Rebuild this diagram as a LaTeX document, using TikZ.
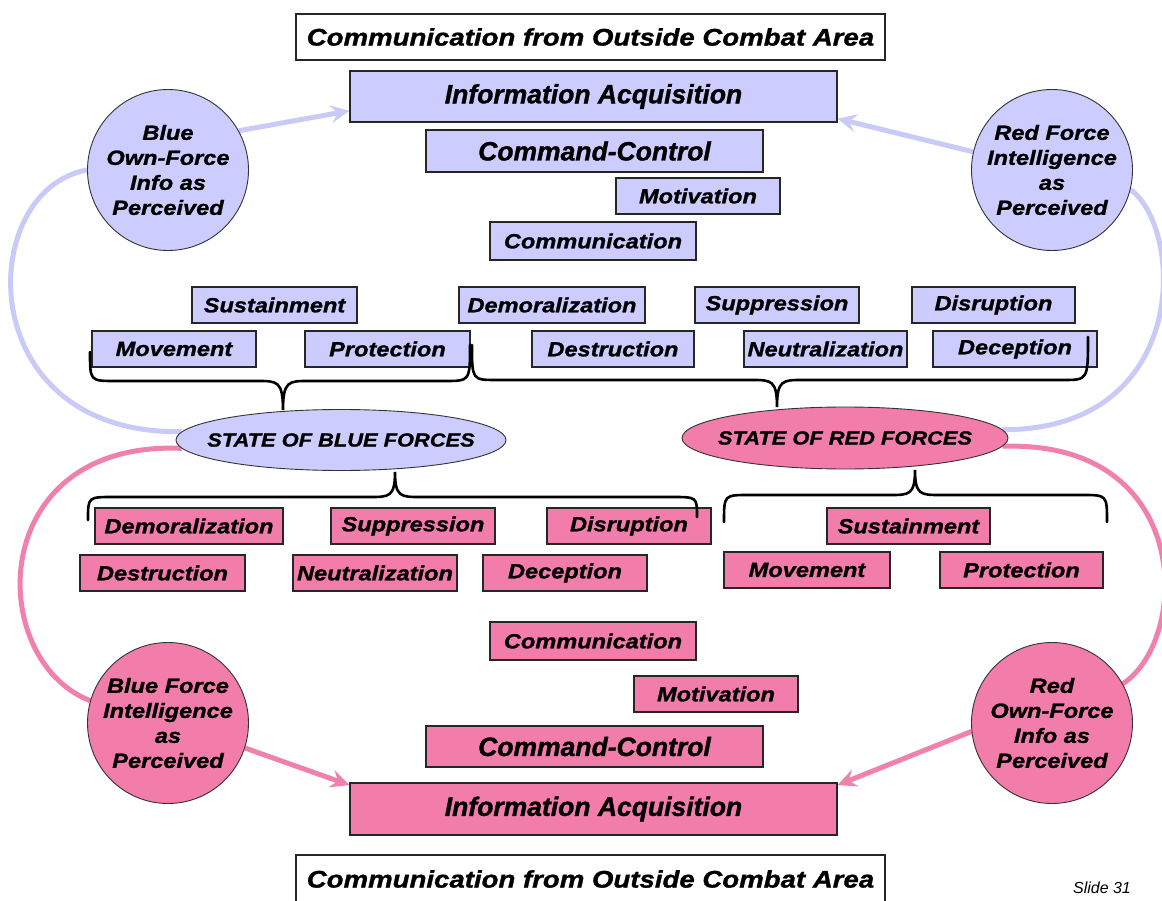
\documentclass[tikz,border=0pt]{standalone}
\usepackage{fontspec}
\usetikzlibrary{shapes.geometric,arrows.meta,calc}
\newfontfamily\labfont{Liberation Sans}[FakeStretch=1.15,FakeBold=1.2]
\newfontfamily\headfont{Liberation Sans}[FakeBold=1.2]
\newfontfamily\slidefont{Liberation Sans}
\definecolor{bluefill}{RGB}{204,204,255}
\definecolor{pinkfill}{RGB}{242,124,170}
\definecolor{blueline}{RGB}{202,202,248}
\definecolor{pinkline}{RGB}{240,128,172}
\pgfdeclarelayer{back}
\pgfsetlayers{back,main}

% curly brace: left end (#1,#2), level #3, tip (#4,#5), right end (#6,#7)
\newcommand\curlybrace[7]{%
  \draw[bracestyle] (#1,#2) .. controls (#1,#3) .. (#1+25,#3) -- (#4-25,#3)
    .. controls (#4-6,#3) and (#4,#3) .. (#4,#5)
    .. controls (#4,#3) and (#4+6,#3) .. (#4+25,#3) -- (#6-25,#3)
    .. controls (#6,#3) .. (#6,#7);}

\tikzset{
  wh/.style 2 args={minimum width=#1pt, minimum height=#2pt},
  labtext/.style={font=\labfont\bfseries\itshape\fontsize{20.5}{25}\selectfont, text=black},
  bigtext/.style={font=\headfont\bfseries\itshape\fontsize{26.5}{30}\selectfont, text=black},
  commtext/.style={font=\labfont\bfseries\itshape\fontsize{24}{28}\selectfont, text=black},
  box/.style={draw=black!85, line width=1.1pt, inner sep=0pt, labtext},
  bbox/.style={box, fill=bluefill},
  pbox/.style={box, fill=pinkfill},
  wbox/.style={box, fill=white},
  bcirc/.style={circle, draw=black!80, line width=0.9pt, fill=bluefill, minimum size=161pt, inner sep=0pt},
  pcirc/.style={circle, draw=black!80, line width=0.9pt, fill=pinkfill, minimum size=161pt, inner sep=0pt},
  ctext/.style={labtext, align=center, inner sep=0pt},
  bell/.style={ellipse, draw=black!80, line width=0.9pt, fill=bluefill, minimum width=330pt, minimum height=61pt, inner sep=0pt},
  pell/.style={ellipse, draw=black!80, line width=0.9pt, fill=pinkfill, minimum width=326pt, minimum height=62pt, inner sep=0pt},
  etext/.style={font=\labfont\bfseries\itshape\fontsize{19}{22}\selectfont, inner sep=0pt},
  bline/.style={draw=blueline, line width=5pt},
  pline/.style={draw=pinkline, line width=5pt},
  tip/.style={-{Stealth[length=19pt,width=18pt,inset=7pt]}},
  bracestyle/.style={draw=black, line width=2.6pt, line cap=round}
}

\begin{document}
\begin{tikzpicture}[x=1pt,y=-1pt]
\useasboundingbox (0,0) rectangle (1162,901);

% ---------- blue side (upper half) ----------
\node[wbox, commtext, wh={589}{46}] (topc) at (590.5,37) {Communication from Outside Combat Area};
\node[bbox, bigtext, wh={487}{51}] (ia) at (593.5,96.5) {Information Acquisition};
\node[bbox, bigtext, wh={337}{42}] (cc) at (594.5,151) {Command-Control};
\node[bbox, wh={164}{36}] (mot) at (698,196) {Motivation};
\node[bbox, wh={206}{38}] (com) at (593,241) {Communication};

\node[bbox, wh={165}{36}] (sus) at (274.5,305) {Sustainment};
\node[bbox, wh={186}{36}] (dem) at (552,305) {Demoralization};
\node[bbox, wh={164}{36}] (sup) at (777,305) {Suppression};
\node[bbox, wh={163}{36}] (dis) at (993.5,305) {Disruption};
\node[bbox, wh={164}{36}] (mov) at (174,349) {Movement};
\node[bbox, wh={165}{36}] (pro) at (387.5,349) {Protection};
\node[bbox, wh={162}{36}] (des) at (613,349) {Destruction};
\node[bbox, wh={163}{36}] (neu) at (825.5,349) {Neutralization};
\node[bbox, wh={164}{36}] (dec) at (1015,349) {Deception};

\node[bcirc] (bo) at (168,170) {};
\node[ctext] (bo-t) at (bo.center) {Blue\\Own-Force\\Info as\\Perceived};
\node[bcirc] (rf) at (1052,170) {};
\node[ctext] (rf-t) at (rf.center) {Red Force\\Intelligence\\as\\Perceived};

\node[bell] (bs) at (341,440) {};
\node[etext] (bs-t) at (bs.center) {STATE OF BLUE FORCES};
\node[pell] (rs) at (845,438) {};
\node[etext] (rs-t) at (rs.center) {STATE OF RED FORCES};

% ---------- red side (lower half) ----------
\node[pbox, wh={188}{36}] (dem2) at (189,526) {Demoralization};
\node[pbox, wh={164}{36}] (sup2) at (413,526) {Suppression};
\node[pbox, wh={164}{36}] (dis2) at (629,526) {Disruption};
\node[pbox, wh={165}{36}] (des2) at (162.5,573) {Destruction};
\node[pbox, wh={164}{36}] (neu2) at (375,573) {Neutralization};
\node[pbox, wh={164}{36}] (dec2) at (565,573) {Deception};
\node[pbox, wh={163}{36}] (sus2) at (908.5,526) {Sustainment};
\node[pbox, wh={166}{36}] (mov2) at (807,570) {Movement};
\node[pbox, wh={163}{36}] (pro2) at (1021.5,570) {Protection};

\node[pbox, wh={206}{38}] (com2) at (593,641) {Communication};
\node[pbox, wh={164}{36}] (mot2) at (716,694) {Motivation};
\node[pbox, bigtext, wh={337}{41}] (cc2) at (594.5,746.5) {Command-Control};
\node[pbox, bigtext, wh={487}{52}] (ia2) at (593.5,809) {Information Acquisition};
\node[wbox, wh={589}{50}] (botc) at (590.5,880) {};
\node[commtext, inner sep=0pt] (botc-t) at (590.5,879) {Communication from Outside Combat Area};

\node[pcirc] (bi) at (168,723) {};
\node[ctext] (bi-t) at (bi.center) {Blue Force\\Intelligence\\as\\Perceived};
\node[pcirc] (ro) at (1052,723) {};
\node[ctext] (ro-t) at (ro.center) {Red\\Own-Force\\Info as\\Perceived};

\node[font=\slidefont\itshape\fontsize{16}{18}\selectfont, inner sep=0pt] (slide) at (1102,888) {Slide 31};

% ---------- braces ----------
\curlybrace{90}{352}{381}{283}{410}{470}{345}
\curlybrace{472}{345}{380}{777}{407}{1088}{337}
\curlybrace{88}{520}{497}{395}{472}{697}{517}
\curlybrace{724}{522}{495}{915}{470}{1107}{522}

% ---------- information loops ----------
\begin{pgfonlayer}{back}
  \draw[bline] (bs.177) .. controls (-30,435) and (-25,190) .. (bo.west);
  \draw[bline, tip] (bo.29) -- ($(ia.west)!0.55!(ia.south west)$);
  \draw[bline] (rs.3) .. controls (1190,430) and (1185,230) .. (rf.-14);
  \draw[bline, tip] (rf.167) -- ($(ia.east)!0.85!(ia.south east)$);

  \draw[pline] (bs.183) .. controls (-15,440) and (-15,660) .. (bi.164);
  \draw[pline, tip] (bi.-18) -- ($(ia2.north west)!0.1!(ia2.west)$);
  \draw[pline] (rs.-3) .. controls (1195,440) and (1190,640) .. (ro.29);
  \draw[pline, tip] (ro.186) -- ($(ia2.north east)!0.1!(ia2.east)$);
\end{pgfonlayer}
\end{tikzpicture}
\end{document}
